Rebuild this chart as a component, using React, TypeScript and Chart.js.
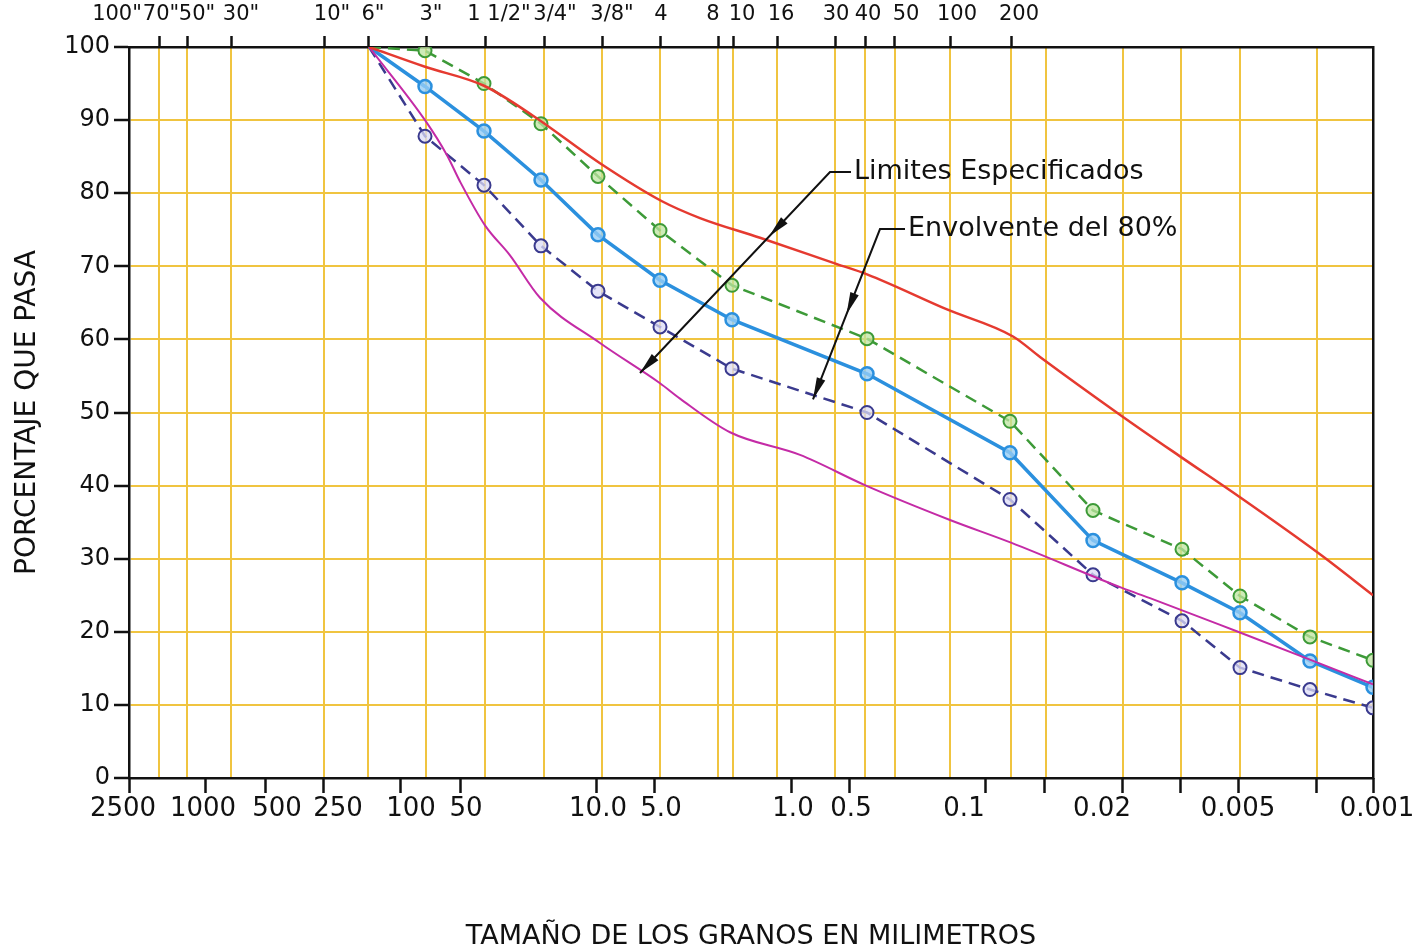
import React, { useEffect, useRef } from 'react';
import { Chart, registerables } from 'chart.js';

Chart.register(...registerables);

// Abscissa: position along the printed (quasi-logarithmic) grain-size scale, in scale units
const X_MIN = 0;
const X_MAX = 1244;

// Vertical grid lines (sieve openings / sizes)
const gridPos = [30, 58, 102, 195, 239, 297, 356, 415, 473, 531, 589, 604, 648, 706, 736, 766, 821, 882, 917, 994, 1052, 1111, 1188];

// Top axis: sieve designations
const topTickPos = [30, 58, 102, 195, 239, 297, 356, 415, 473, 531, 589, 604, 648, 706, 736, 766, 821, 882];
const topLabels = ['100"', '70"', '50"', '30"', '10"', '6"', '3"', '1 1/2"', '3/4"', '3/8"', '4', '8', '10', '16', '30', '40', '50', '100', '200'];
const topLabelPos = [-12, 32, 68, 112, 203, 244, 302, 370, 426, 483, 532, 584, 613, 652, 707, 739, 777, 828, 890];

// Bottom axis: grain size in mm
const bottomTickPos = [0, 76, 136, 194, 271, 331, 467, 525, 662, 720, 856, 915, 993, 1051, 1109, 1187, 1244];
const bottomLabels = ['2500', '1000', '500', '250', '100', '50', '10.0', '5.0', '1.0', '0.5', '0.1', '0.02', '0.005', '0.001'];
const bottomLabelPos = [-6, 74, 148, 209, 282, 337, 469, 532, 664, 722, 835, 973, 1109, 1248];

// Measured curves (sieve positions shared by the three marked curves)
const sievePos = [240, 296, 355, 412, 469, 531, 603, 738, 881, 964, 1053, 1111, 1181, 1244];
const greenPct = [100, 99.5, 95, 89.5, 82.3, 74.9, 67.4, 60.1, 48.8, 36.6, 31.3, 24.9, 19.3, 16.1];
const bluePct = [100, 94.6, 88.5, 81.8, 74.3, 68.1, 62.7, 55.3, 44.5, 32.5, 26.7, 22.6, 16.0, 12.4];
const navyPct = [100, 87.8, 81.1, 72.8, 66.6, 61.7, 56.0, 50.0, 38.1, 27.8, 21.5, 15.1, 12.1, 9.6];

// Specified limits
const upperPos = [240, 296, 355, 404, 471, 533, 571, 631, 708, 738, 818, 884, 911, 993, 1051, 1111, 1191, 1244];
const upperPct = [100, 97.3, 94.7, 90.6, 84.1, 78.9, 76.6, 73.9, 70.3, 68.9, 64.1, 60.4, 57.6, 49.5, 44, 38.4, 30.6, 25];
const lowerPos = [240, 296, 318, 331, 356, 381, 411, 471, 531, 551, 601, 671, 737, 821, 882, 993, 1021, 1109, 1179, 1244];
const lowerPct = [100, 90, 85.2, 81.6, 75.6, 71.5, 65.7, 59.5, 54, 51.9, 47.3, 44.2, 40, 35.3, 32.2, 26, 24.6, 20, 16.3, 12.8];

// Callouts (data coordinates)
const callouts = [
  { text: 'Limites Especificados', textX: 725, textY: 82.9, cornerX: 701, cornerY: 82.9, tipX: 511, tipY: 55.4, midT: 0.32 },
  { text: 'Envolvente del 80%', textX: 779, textY: 75.1, cornerX: 751, cornerY: 75.1, tipX: 684, tipY: 51.8, midT: 0.5 },
];

const FONT = '"DejaVu Sans", sans-serif';
const INK = '#111111';
const GRID = '#f0c440';

function arrowHead(ctx: CanvasRenderingContext2D, x: number, y: number, ang: number) {
  const L = 22, W = 4.5;
  const c = Math.cos(ang), s = Math.sin(ang);
  const bx = x - L * c, by = y - L * s;
  ctx.beginPath();
  ctx.moveTo(x, y);
  ctx.lineTo(bx - W * s, by + W * c);
  ctx.lineTo(bx + W * s, by - W * c);
  ctx.closePath();
  ctx.fill();
}

const calloutPlugin = {
  id: 'callouts',
  afterDatasetsDraw(chart: any) {
    const { ctx } = chart;
    const xs = chart.scales.x, ys = chart.scales.y;
    ctx.save();
    ctx.strokeStyle = INK;
    ctx.fillStyle = INK;
    ctx.lineWidth = 2;
    for (const c of callouts) {
      const cx = xs.getPixelForValue(c.cornerX), cy = ys.getPixelForValue(c.cornerY);
      const tx = xs.getPixelForValue(c.tipX), ty = ys.getPixelForValue(c.tipY);
      const lx = xs.getPixelForValue(c.textX) - 3;
      ctx.beginPath();
      ctx.moveTo(lx, cy);
      ctx.lineTo(cx, cy);
      ctx.lineTo(tx, ty);
      ctx.stroke();
      const ang = Math.atan2(ty - cy, tx - cx);
      arrowHead(ctx, tx, ty, ang);
      arrowHead(ctx, cx + (tx - cx) * c.midT, cy + (ty - cy) * c.midT, ang);
      ctx.font = `27px ${FONT}`;
      ctx.textBaseline = 'middle';
      ctx.textAlign = 'left';
      ctx.fillText(c.text, xs.getPixelForValue(c.textX), ys.getPixelForValue(c.textY));
    }
    ctx.restore();
  },
};

const pts = (xs: number[], ys: number[]) => xs.map((x, i) => ({ x, y: ys[i] }));
const markerRadius = (ctx: any) => (ctx.dataIndex === 0 ? 0 : 6.5);

export default function App() {
  const ref = useRef<HTMLCanvasElement>(null);

  useEffect(() => {
    const chart = new Chart(ref.current as HTMLCanvasElement, {
      type: 'line',
      data: {
        datasets: [
          {
            label: 'Límite superior',
            data: pts(upperPos, upperPct),
            borderColor: '#e53a30',
            borderWidth: 2.5,
            pointRadius: 0,
            tension: 0.4,
            cubicInterpolationMode: 'monotone',
            xAxisID: 'x',
            yAxisID: 'y',
          },
          {
            label: 'Límite inferior',
            data: pts(lowerPos, lowerPct),
            borderColor: '#c42ba6',
            borderWidth: 2,
            pointRadius: 0,
            tension: 0.4,
            cubicInterpolationMode: 'monotone',
            xAxisID: 'x',
            yAxisID: 'y',
          },
          {
            label: 'Envolvente superior',
            data: pts(sievePos, greenPct),
            borderColor: '#3d9a38',
            borderWidth: 2.5,
            borderDash: [12, 7],
            pointRadius: markerRadius,
            pointBorderWidth: 2,
            pointBorderColor: '#3d9a38',
            pointBackgroundColor: 'rgba(190,228,160,0.75)',
            tension: 0,
            xAxisID: 'x',
            yAxisID: 'y',
          },
          {
            label: 'Curva media',
            data: pts(sievePos, bluePct),
            borderColor: '#2b90de',
            borderWidth: 3.5,
            pointRadius: markerRadius,
            pointBorderWidth: 2.5,
            pointBorderColor: '#2b90de',
            pointBackgroundColor: 'rgba(150,205,245,0.8)',
            tension: 0,
            xAxisID: 'x',
            yAxisID: 'y',
          },
          {
            label: 'Envolvente inferior',
            data: pts(sievePos, navyPct),
            borderColor: '#3a3a8e',
            borderWidth: 2.5,
            borderDash: [12, 7],
            pointRadius: markerRadius,
            pointBorderWidth: 2,
            pointBorderColor: '#3a3a8e',
            pointBackgroundColor: 'rgba(220,220,245,0.75)',
            tension: 0,
            xAxisID: 'x',
            yAxisID: 'y',
          },
        ],
      },
      options: {
        responsive: false,
        devicePixelRatio: 1,
        animation: false,
        events: [],
        layout: { padding: 0 },
        plugins: { legend: { display: false }, tooltip: { enabled: false } },
        scales: {
          x: {
            type: 'linear',
            position: 'bottom',
            weight: 0,
            min: X_MIN,
            max: X_MAX,
            afterBuildTicks: (s: any) => { s.ticks = gridPos.map((v) => ({ value: v })); },
            afterFit: (s: any) => { s.height = 0; },
            ticks: { display: false },
            grid: { color: GRID, lineWidth: 2, drawTicks: false },
            border: { display: true, color: INK, width: 2.5 },
          },
          xbt: {
            type: 'linear',
            position: 'bottom',
            weight: 1,
            min: X_MIN,
            max: X_MAX,
            afterBuildTicks: (s: any) => { s.ticks = bottomTickPos.map((v) => ({ value: v })); },
            afterFit: (s: any) => { s.height = 15; },
            ticks: { display: false },
            grid: { drawOnChartArea: false, drawTicks: true, tickLength: 15, tickColor: INK, tickWidth: 2.5 },
            border: { display: false },
          },
          xbl: {
            type: 'linear',
            position: 'bottom',
            weight: 2,
            min: X_MIN,
            max: X_MAX,
            afterBuildTicks: (s: any) => { s.ticks = bottomLabelPos.map((v) => ({ value: v })); },
            afterFit: (s: any) => { s.height = 157; },
            ticks: {
              autoSkip: false,
              maxRotation: 0,
              minRotation: 0,
              padding: 1,
              color: INK,
              font: { family: FONT, size: 26 },
              callback: (_v: any, i: number) => bottomLabels[i],
            },
            grid: { display: false, drawTicks: false },
            border: { display: false },
            title: {
              display: true,
              text: 'TAMAÑO DE LOS GRANOS EN MILIMETROS',
              color: INK,
              font: { family: FONT, size: 27, lineHeight: 1 },
              padding: { top: 0, bottom: 0 },
            },
          },
          xt: {
            type: 'linear',
            position: 'top',
            weight: 1,
            min: X_MIN,
            max: X_MAX,
            afterBuildTicks: (s: any) => { s.ticks = topTickPos.map((v) => ({ value: v })); },
            afterFit: (s: any) => { s.height = 11; },
            ticks: { display: false },
            grid: { drawOnChartArea: false, drawTicks: true, tickLength: 11, tickColor: INK, tickWidth: 2.5 },
            border: { display: true, color: INK, width: 2.5 },
          },
          xtl: {
            type: 'linear',
            position: 'top',
            weight: 2,
            min: X_MIN,
            max: X_MAX,
            afterBuildTicks: (s: any) => { s.ticks = topLabelPos.map((v) => ({ value: v })); },
            afterFit: (s: any) => { s.height = 36; },
            ticks: {
              autoSkip: false,
              maxRotation: 0,
              minRotation: 0,
              padding: 9,
              color: INK,
              font: { family: FONT, size: 21 },
              callback: (_v: any, i: number) => topLabels[i],
            },
            grid: { display: false, drawTicks: false },
            border: { display: false },
          },
          y: {
            type: 'linear',
            position: 'left',
            min: 0,
            max: 100,
            afterFit: (s: any) => { s.width = 129; },
            ticks: { stepSize: 10, padding: 4, color: INK, font: { family: FONT, size: 24 } },
            grid: { color: GRID, lineWidth: 2, drawTicks: true, tickLength: 15, tickColor: INK, tickWidth: 2.5 },
            border: { display: true, color: INK, width: 2.5 },
            title: {
              display: true,
              text: 'PORCENTAJE QUE PASA',
              color: INK,
              font: { family: FONT, size: 28 },
              padding: { top: 11, bottom: 0 },
            },
          },
          yr: {
            type: 'linear',
            position: 'right',
            min: 0,
            max: 100,
            afterFit: (s: any) => { s.width = 48; },
            ticks: { display: false },
            grid: { drawOnChartArea: false, drawTicks: false },
            border: { display: true, color: INK, width: 2.5 },
          },
        },
      } as any,
      plugins: [calloutPlugin],
    });
    return () => chart.destroy();
  }, []);

  return (
    <div style={{ position: 'absolute', left: 0, top: 0, width: 1421, height: 950, background: '#fff' }}>
      <canvas ref={ref} width={1421} height={950} style={{ display: 'block', width: 1421, height: 950 }} />
    </div>
  );
}
